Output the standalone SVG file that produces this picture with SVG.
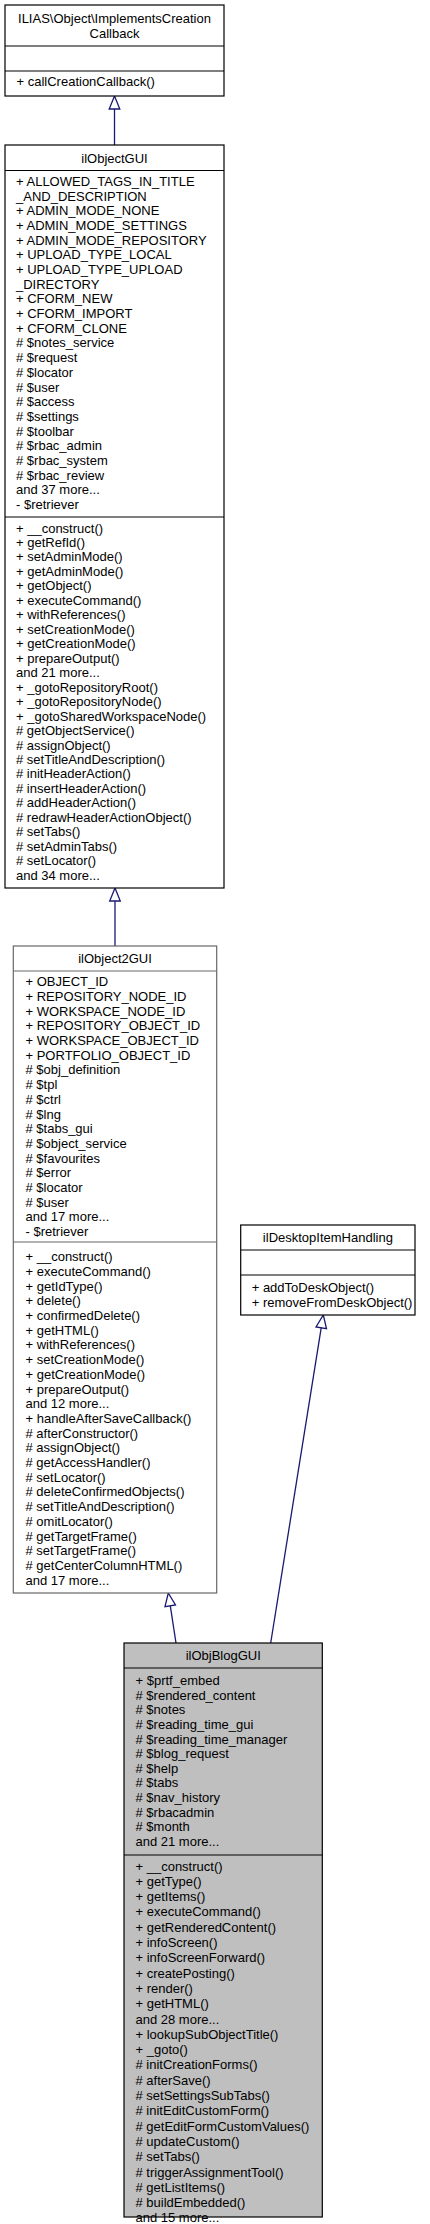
<svg xmlns="http://www.w3.org/2000/svg" width="430" height="2224" viewBox="0 0 430 2224">
<style>
text{font-family:"Liberation Sans",Arial,Helvetica,sans-serif;font-size:13px;fill:#000}
.c{text-anchor:middle}
.box{fill:#fff;stroke:#000;stroke-width:1.2}
.gbox{fill:#fff;stroke:#666;stroke-width:1.2}
.main{fill:#bfbfbf;stroke:#000;stroke-width:1.2}
.sep{stroke:#000;stroke-width:1.2}
.gsep{stroke:#666;stroke-width:1.2}
.edge{stroke:#191970;stroke-width:1.3;fill:none}
.head{fill:#fff;stroke:#191970;stroke-width:1.3}
</style>
<rect width="430" height="2224" fill="#fff"/>
<g id="connectors">
<line class="edge" x1="114.5" y1="145" x2="114.5" y2="109"/>
<polygon class="head" points="114.5,96 119.8,109 109.2,109"/>
<line class="edge" x1="115" y1="946" x2="115" y2="901"/>
<polygon class="head" points="115,888 120.3,901 109.7,901"/>
<line class="edge" x1="176" y1="1643" x2="170.3" y2="1605.9"/>
<polygon class="head" points="168.3,1593 175.5,1605 165,1606.7"/>
<line class="edge" x1="270.7" y1="1643" x2="321.2" y2="1327.8"/>
<polygon class="head" points="323.3,1315 326.5,1328.7 316,1327"/>
</g>
<g id="node_ImplementsCreationCallback">
<rect class="box" x="5" y="5" width="219" height="91"/>
<line class="sep" x1="5" y1="46" x2="224" y2="46"/>
<line class="sep" x1="5" y1="71" x2="224" y2="71"/>
<text class="c" x="114.5" y="23">ILIAS\Object\ImplementsCreation</text>
<text class="c" x="114.5" y="37.5">Callback</text>
<text x="16.5" y="86.2">+ callCreationCallback()</text>
</g>
<g id="node_ilObjectGUI">
<rect class="box" x="5" y="145" width="219" height="743"/>
<line class="sep" x1="5" y1="170.5" x2="224" y2="170.5"/>
<line class="sep" x1="5" y1="517" x2="224" y2="517"/>
<text class="c" x="114.5" y="162.5">ilObjectGUI</text>
<text x="16" y="186"><tspan x="16" dy="0">+ ALLOWED_TAGS_IN_TITLE</tspan><tspan x="16" dy="14.68">_AND_DESCRIPTION</tspan><tspan x="16" dy="14.68">+ ADMIN_MODE_NONE</tspan><tspan x="16" dy="14.68">+ ADMIN_MODE_SETTINGS</tspan><tspan x="16" dy="14.68">+ ADMIN_MODE_REPOSITORY</tspan><tspan x="16" dy="14.68">+ UPLOAD_TYPE_LOCAL</tspan><tspan x="16" dy="14.68">+ UPLOAD_TYPE_UPLOAD</tspan><tspan x="16" dy="14.68">_DIRECTORY</tspan><tspan x="16" dy="14.68">+ CFORM_NEW</tspan><tspan x="16" dy="14.68">+ CFORM_IMPORT</tspan><tspan x="16" dy="14.68">+ CFORM_CLONE</tspan><tspan x="16" dy="14.68"># $notes_service</tspan><tspan x="16" dy="14.68"># $request</tspan><tspan x="16" dy="14.68"># $locator</tspan><tspan x="16" dy="14.68"># $user</tspan><tspan x="16" dy="14.68"># $access</tspan><tspan x="16" dy="14.68"># $settings</tspan><tspan x="16" dy="14.68"># $toolbar</tspan><tspan x="16" dy="14.68"># $rbac_admin</tspan><tspan x="16" dy="14.68"># $rbac_system</tspan><tspan x="16" dy="14.68"># $rbac_review</tspan><tspan x="16" dy="14.68">and 37 more...</tspan><tspan x="16" dy="14.68">- $retriever</tspan></text>
<text x="16" y="532.5"><tspan x="16" dy="0">+ __construct()</tspan><tspan x="16" dy="14.47">+ getRefId()</tspan><tspan x="16" dy="14.47">+ setAdminMode()</tspan><tspan x="16" dy="14.47">+ getAdminMode()</tspan><tspan x="16" dy="14.47">+ getObject()</tspan><tspan x="16" dy="14.47">+ executeCommand()</tspan><tspan x="16" dy="14.47">+ withReferences()</tspan><tspan x="16" dy="14.47">+ setCreationMode()</tspan><tspan x="16" dy="14.47">+ getCreationMode()</tspan><tspan x="16" dy="14.47">+ prepareOutput()</tspan><tspan x="16" dy="14.47">and 21 more...</tspan><tspan x="16" dy="14.47">+ _gotoRepositoryRoot()</tspan><tspan x="16" dy="14.47">+ _gotoRepositoryNode()</tspan><tspan x="16" dy="14.47">+ _gotoSharedWorkspaceNode()</tspan><tspan x="16" dy="14.47"># getObjectService()</tspan><tspan x="16" dy="14.47"># assignObject()</tspan><tspan x="16" dy="14.47"># setTitleAndDescription()</tspan><tspan x="16" dy="14.47"># initHeaderAction()</tspan><tspan x="16" dy="14.47"># insertHeaderAction()</tspan><tspan x="16" dy="14.47"># addHeaderAction()</tspan><tspan x="16" dy="14.47"># redrawHeaderActionObject()</tspan><tspan x="16" dy="14.47"># setTabs()</tspan><tspan x="16" dy="14.47"># setAdminTabs()</tspan><tspan x="16" dy="14.47"># setLocator()</tspan><tspan x="16" dy="14.47">and 34 more...</tspan></text>
</g>
<g id="node_ilObject2GUI">
<rect class="gbox" x="13.3" y="946" width="203.4" height="647"/>
<line class="gsep" x1="13.3" y1="971" x2="216.7" y2="971"/>
<line class="gsep" x1="13.3" y1="1242" x2="216.7" y2="1242"/>
<text class="c" x="115" y="963">ilObject2GUI</text>
<text x="25.5" y="986.2"><tspan x="25.5" dy="0">+ OBJECT_ID</tspan><tspan x="25.5" dy="14.7">+ REPOSITORY_NODE_ID</tspan><tspan x="25.5" dy="14.7">+ WORKSPACE_NODE_ID</tspan><tspan x="25.5" dy="14.7">+ REPOSITORY_OBJECT_ID</tspan><tspan x="25.5" dy="14.7">+ WORKSPACE_OBJECT_ID</tspan><tspan x="25.5" dy="14.7">+ PORTFOLIO_OBJECT_ID</tspan><tspan x="25.5" dy="14.7"># $obj_definition</tspan><tspan x="25.5" dy="14.7"># $tpl</tspan><tspan x="25.5" dy="14.7"># $ctrl</tspan><tspan x="25.5" dy="14.7"># $lng</tspan><tspan x="25.5" dy="14.7"># $tabs_gui</tspan><tspan x="25.5" dy="14.7"># $object_service</tspan><tspan x="25.5" dy="14.7"># $favourites</tspan><tspan x="25.5" dy="14.7"># $error</tspan><tspan x="25.5" dy="14.7"># $locator</tspan><tspan x="25.5" dy="14.7"># $user</tspan><tspan x="25.5" dy="14.7">and 17 more...</tspan><tspan x="25.5" dy="14.7">- $retriever</tspan></text>
<text x="25.5" y="1261.2"><tspan x="25.5" dy="0">+ __construct()</tspan><tspan x="25.5" dy="14.7">+ executeCommand()</tspan><tspan x="25.5" dy="14.7">+ getIdType()</tspan><tspan x="25.5" dy="14.7">+ delete()</tspan><tspan x="25.5" dy="14.7">+ confirmedDelete()</tspan><tspan x="25.5" dy="14.7">+ getHTML()</tspan><tspan x="25.5" dy="14.7">+ withReferences()</tspan><tspan x="25.5" dy="14.7">+ setCreationMode()</tspan><tspan x="25.5" dy="14.7">+ getCreationMode()</tspan><tspan x="25.5" dy="14.7">+ prepareOutput()</tspan><tspan x="25.5" dy="14.7">and 12 more...</tspan><tspan x="25.5" dy="14.7">+ handleAfterSaveCallback()</tspan><tspan x="25.5" dy="14.7"># afterConstructor()</tspan><tspan x="25.5" dy="14.7"># assignObject()</tspan><tspan x="25.5" dy="14.7"># getAccessHandler()</tspan><tspan x="25.5" dy="14.7"># setLocator()</tspan><tspan x="25.5" dy="14.7"># deleteConfirmedObjects()</tspan><tspan x="25.5" dy="14.7"># setTitleAndDescription()</tspan><tspan x="25.5" dy="14.7"># omitLocator()</tspan><tspan x="25.5" dy="14.7"># getTargetFrame()</tspan><tspan x="25.5" dy="14.7"># setTargetFrame()</tspan><tspan x="25.5" dy="14.7"># getCenterColumnHTML()</tspan><tspan x="25.5" dy="14.7">and 17 more...</tspan></text>
</g>
<g id="node_ilDesktopItemHandling">
<rect class="box" x="240.7" y="1225" width="174.3" height="90"/>
<line class="sep" x1="240.7" y1="1250" x2="415" y2="1250"/>
<line class="sep" x1="240.7" y1="1275" x2="415" y2="1275"/>
<text class="c" x="327.9" y="1242">ilDesktopItemHandling</text>
<text x="251.7" y="1291.5">+ addToDeskObject()</text>
<text x="251.7" y="1306.5">+ removeFromDeskObject()</text>
</g>
<g id="node_ilObjBlogGUI">
<rect class="main" x="124" y="1643" width="198.3" height="574"/>
<line class="sep" x1="124" y1="1668" x2="322.3" y2="1668"/>
<line class="sep" x1="124" y1="1855" x2="322.3" y2="1855"/>
<text class="c" x="223.2" y="1660">ilObjBlogGUI</text>
<text x="135.5" y="1685.2"><tspan x="135.5" dy="0">+ $prtf_embed</tspan><tspan x="135.5" dy="14.6"># $rendered_content</tspan><tspan x="135.5" dy="14.6"># $notes</tspan><tspan x="135.5" dy="14.6"># $reading_time_gui</tspan><tspan x="135.5" dy="14.6"># $reading_time_manager</tspan><tspan x="135.5" dy="14.6"># $blog_request</tspan><tspan x="135.5" dy="14.6"># $help</tspan><tspan x="135.5" dy="14.6"># $tabs</tspan><tspan x="135.5" dy="14.6"># $nav_history</tspan><tspan x="135.5" dy="14.6"># $rbacadmin</tspan><tspan x="135.5" dy="14.6"># $month</tspan><tspan x="135.5" dy="14.6">and 21 more...</tspan></text>
<text x="135.5" y="1870.5"><tspan x="135.5" dy="0">+ __construct()</tspan><tspan x="135.5" dy="15.3">+ getType()</tspan><tspan x="135.5" dy="15.3">+ getItems()</tspan><tspan x="135.5" dy="15.3">+ executeCommand()</tspan><tspan x="135.5" dy="15.3">+ getRenderedContent()</tspan><tspan x="135.5" dy="15.3">+ infoScreen()</tspan><tspan x="135.5" dy="15.3">+ infoScreenForward()</tspan><tspan x="135.5" dy="15.3">+ createPosting()</tspan><tspan x="135.5" dy="15.3">+ render()</tspan><tspan x="135.5" dy="15.3">+ getHTML()</tspan><tspan x="135.5" dy="15.3">and 28 more...</tspan><tspan x="135.5" dy="15.3">+ lookupSubObjectTitle()</tspan><tspan x="135.5" dy="15.3">+ _goto()</tspan><tspan x="135.5" dy="15.3"># initCreationForms()</tspan><tspan x="135.5" dy="15.3"># afterSave()</tspan><tspan x="135.5" dy="15.3"># setSettingsSubTabs()</tspan><tspan x="135.5" dy="15.3"># initEditCustomForm()</tspan><tspan x="135.5" dy="15.3"># getEditFormCustomValues()</tspan><tspan x="135.5" dy="15.3"># updateCustom()</tspan><tspan x="135.5" dy="15.3"># setTabs()</tspan><tspan x="135.5" dy="15.3"># triggerAssignmentTool()</tspan><tspan x="135.5" dy="15.3"># getListItems()</tspan><tspan x="135.5" dy="15.3"># buildEmbedded()</tspan><tspan x="135.5" dy="15.3">and 15 more...</tspan></text>
</g>
</svg>
